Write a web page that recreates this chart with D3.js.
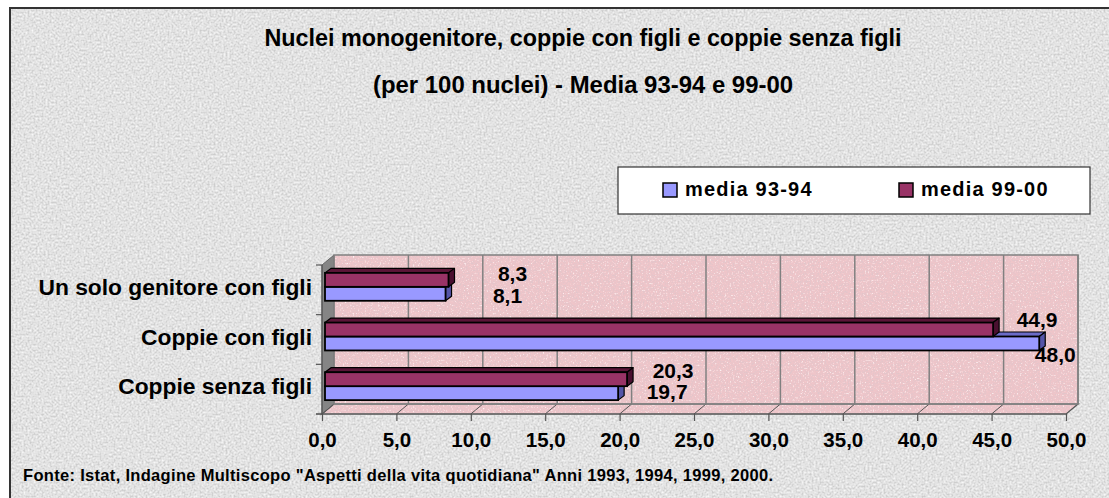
<!DOCTYPE html>
<html>
<head>
<meta charset="utf-8">
<script src="https://cdn.jsdelivr.net/npm/d3@7"></script>
<style>
  html, body { margin: 0; padding: 0; background: #fff; }
  text { font-family: "Liberation Sans", Arial, sans-serif; font-weight: bold; fill: #000; }
</style>
</head>
<body>
<div id="chart"></div>
<script>
// chart data
const categories = ["Un solo genitore con figli", "Coppie con figli", "Coppie senza figli"];
const seriesNames = ["media 93-94", "media 99-00"];
const media9394 = [8.1, 48.0, 19.7];
const media9900 = [8.3, 44.9, 20.3];
const xTicks = [0, 5, 10, 15, 20, 25, 30, 35, 40, 45, 50];
const titleLines = ["Nuclei monogenitore, coppie con figli e coppie senza figli",
                    "(per 100 nuclei) - Media 93-94 e 99-00"];
const sourceText = "Fonte: Istat, Indagine Multiscopo \"Aspetti della vita quotidiana\" Anni 1993, 1994, 1999, 2000.";

const width = 1109, height = 498;
const colors = { "media 93-94": "#9999ff", "media 99-00": "#993366" };
const topColors = { "media 93-94": "#6b6bc8", "media 99-00": "#5a1537" };
const sideColors = { "media 93-94": "#5555a8", "media 99-00": "#4a1030" };

// label placement tweaks (px, relative to bar end / bar centre)
const labelShift = {
  "media 99-00": [[64, 1], [44, -3], [46, -1]],
  "media 93-94": [[62, 9], [16, 19], [49, 6]]
};

const depth = [12, -10];     // wall depth
const barFront = [3, -3];    // bar front offset inside the depth
const barDepth = [6, -4.5];  // bar thickness

const svg = d3.select("#chart").append("svg")
    .attr("width", width).attr("height", height);

const defs = svg.append("defs");
// speckled texture: dark and light flecks laid over the fill
function grain(id, dark, light, freq) {
  const f = defs.append("filter").attr("id", id)
      .attr("x", 0).attr("y", 0).attr("width", "100%").attr("height", "100%");
  f.append("feTurbulence").attr("type", "fractalNoise")
      .attr("baseFrequency", freq).attr("numOctaves", 3).attr("seed", 5).attr("result", "n");
  const dk = d3.rgb(dark), lt = d3.rgb(light);
  f.append("feColorMatrix").attr("in", "n").attr("type", "matrix")
      .attr("values", `0 0 0 0 ${dk.r/255} 0 0 0 0 ${dk.g/255} 0 0 0 0 ${dk.b/255} 3.2 0 0 0 -1.45`)
      .attr("result", "d");
  f.append("feColorMatrix").attr("in", "n").attr("type", "matrix")
      .attr("values", `0 0 0 0 ${lt.r/255} 0 0 0 0 ${lt.g/255} 0 0 0 0 ${lt.b/255} -3.2 0 0 0 1.3`)
      .attr("result", "l");
  f.append("feComposite").attr("in", "d").attr("in2", "SourceGraphic").attr("operator", "in").attr("result", "dc");
  f.append("feComposite").attr("in", "l").attr("in2", "SourceGraphic").attr("operator", "in").attr("result", "lc");
  const m = f.append("feMerge");
  m.append("feMergeNode").attr("in", "SourceGraphic");
  m.append("feMergeNode").attr("in", "dc");
  m.append("feMergeNode").attr("in", "lc");
}
grain("granite", "#9a9a9a", "#ffffff", 0.5);
grain("pinkgrain", "#c09098", "#fbe4e6", 0.6);

// outer frame
svg.append("rect")
    .attr("x", 10).attr("y", 8).attr("width", 1200).attr("height", 600)
    .attr("fill", "#e6e6e6").attr("filter", "url(#granite)");
svg.append("rect")
    .attr("x", 10).attr("y", 8).attr("width", 1200).attr("height", 600)
    .attr("fill", "none").attr("stroke", "#333").attr("stroke-width", 2);

// title
svg.selectAll(".title").data(titleLines).enter().append("text")
    .attr("class", "title")
    .attr("x", 583).attr("y", (d, i) => 46 + i * 47)
    .attr("text-anchor", "middle")
    .attr("font-size", 23)
    .attr("textLength", (d, i) => [637, 420][i])
    .attr("lengthAdjust", "spacingAndGlyphs")
    .text(d => d);

// scales
const x = d3.scaleLinear().domain([0, 50]).range([322, 1066]);
const y = d3.scaleBand().domain(categories).range([265, 414]);
const ySub = d3.scaleBand().domain(["media 99-00", "media 93-94"])
    .range([0, y.bandwidth()]).paddingOuter(0.78);

const x0 = x.range()[0], x1 = x.range()[1];
const y0 = y.range()[0], y1 = y.range()[1];
const pts = a => a.map(p => p.join(",")).join(" ");

// back wall
svg.append("rect")
    .attr("x", x0 + depth[0]).attr("y", y0 + depth[1])
    .attr("width", x1 - x0).attr("height", y1 - y0)
    .attr("fill", "#efc5c9").attr("filter", "url(#pinkgrain)");
// floor
const floorPts = pts([[x0, y1], [x0 + depth[0], y1 + depth[1]], [x1 + depth[0], y1 + depth[1]], [x1, y1]]);
svg.append("polygon").attr("points", floorPts)
    .attr("fill", "#efc5c9").attr("filter", "url(#pinkgrain)");
svg.append("polygon").attr("points", floorPts)
    .attr("fill", "none").attr("stroke", "#808080").attr("stroke-width", 1.5);
// left wall
svg.append("polygon")
    .attr("points", pts([[x0, y0], [x0 + depth[0], y0 + depth[1]], [x0 + depth[0], y1 + depth[1]], [x0, y1]]))
    .attr("fill", "#858585").attr("stroke", "#666").attr("stroke-width", 1);

// grid lines on back wall and floor
svg.append("g").selectAll("line").data(xTicks.slice(1)).enter().append("line")
    .attr("x1", d => x(d) + depth[0]).attr("x2", d => x(d) + depth[0])
    .attr("y1", y0 + depth[1]).attr("y2", y1 + depth[1])
    .attr("stroke", "#808080").attr("stroke-width", 1.5);
svg.append("g").selectAll("line").data(xTicks).enter().append("line")
    .attr("x1", d => x(d)).attr("x2", d => x(d) + depth[0])
    .attr("y1", y1).attr("y2", y1 + depth[1])
    .attr("stroke", "#555").attr("stroke-width", 1);
svg.append("rect")
    .attr("x", x0 + depth[0]).attr("y", y0 + depth[1])
    .attr("width", x1 - x0).attr("height", y1 - y0)
    .attr("fill", "none").attr("stroke", "#808080").attr("stroke-width", 1.5);

// bars, drawn from the bottom up so upper fronts hide lower tops
const rows = [];
categories.forEach((c, i) => {
  rows.push({ cat: c, i, s: "media 93-94", v: media9394[i] });
  rows.push({ cat: c, i, s: "media 99-00", v: media9900[i] });
});
rows.sort((a, b) => (y(b.cat) + ySub(b.s)) - (y(a.cat) + ySub(a.s)));

const bars = svg.append("g").selectAll("g").data(rows).enter().append("g");
function geom(d) {
  const fx0 = x(0) + barFront[0], fx1 = x(d.v) + barFront[0];
  const fy0 = y(d.cat) + ySub(d.s) + barFront[1], fy1 = fy0 + ySub.bandwidth();
  return { fx0, fx1, fy0, fy1 };
}
bars.append("polygon")
    .attr("points", d => { const g = geom(d);
      return pts([[g.fx0, g.fy0], [g.fx0 + barDepth[0], g.fy0 + barDepth[1]],
                  [g.fx1 + barDepth[0], g.fy0 + barDepth[1]], [g.fx1, g.fy0]]); })
    .attr("fill", d => topColors[d.s]).attr("stroke", "#000").attr("stroke-width", 1.2)
    .attr("stroke-linejoin", "round");
bars.append("polygon")
    .attr("points", d => { const g = geom(d);
      return pts([[g.fx1, g.fy0], [g.fx1 + barDepth[0], g.fy0 + barDepth[1]],
                  [g.fx1 + barDepth[0], g.fy1 + barDepth[1]], [g.fx1, g.fy1]]); })
    .attr("fill", d => sideColors[d.s]).attr("stroke", "#000").attr("stroke-width", 1.2)
    .attr("stroke-linejoin", "round");
bars.append("rect")
    .attr("x", d => geom(d).fx0).attr("y", d => geom(d).fy0)
    .attr("width", d => geom(d).fx1 - geom(d).fx0)
    .attr("height", ySub.bandwidth())
    .attr("fill", d => colors[d.s]).attr("stroke", "#000").attr("stroke-width", 1.8);

// front axis lines
svg.append("line").attr("x1", x0).attr("x2", x0).attr("y1", y0).attr("y2", y1)
    .attr("stroke", "#555").attr("stroke-width", 1.2);
svg.append("line").attr("x1", x0 - 6).attr("x2", x1 + 0.5).attr("y1", y1).attr("y2", y1)
    .attr("stroke", "#555").attr("stroke-width", 1.2);

// x axis
const fmt = d => d3.format(".1f")(d).replace(".", ",");
const xAxis = svg.append("g").attr("transform", `translate(0,${y1})`)
    .call(d3.axisBottom(x).tickValues(xTicks).tickFormat(fmt).tickSize(7).tickSizeOuter(0).tickPadding(11));
xAxis.select(".domain").remove();
xAxis.selectAll("line").attr("stroke", "#555").attr("stroke-width", 1.2);
xAxis.selectAll("text").attr("font-size", 20.5).attr("font-family", null).attr("fill", "#000");

// category boundary ticks
svg.append("g").selectAll("line").data(d3.range(categories.length + 1)).enter().append("line")
    .attr("x1", x0 - 6).attr("x2", x0)
    .attr("y1", i => y0 + i * y.step()).attr("y2", i => y0 + i * y.step())
    .attr("stroke", "#555").attr("stroke-width", 1.2);

// y axis labels
const yAxis = svg.append("g").attr("transform", `translate(${x0},${barFront[1]})`)
    .call(d3.axisLeft(y).tickSize(0).tickPadding(10));
yAxis.select(".domain").remove();
yAxis.selectAll("text").attr("font-size", 22.8).attr("font-family", null)
    .attr("fill", "#000").attr("dy", "0.36em");

// value labels
svg.append("g").selectAll("text").data(rows).enter().append("text")
    .attr("x", d => x(d.v) + barFront[0] + labelShift[d.s][d.i][0])
    .attr("y", d => { const g = geom(d); return (g.fy0 + g.fy1) / 2 + labelShift[d.s][d.i][1]; })
    .attr("text-anchor", "middle")
    .attr("font-size", 21)
    .text(d => fmt(d.v));

// legend
const lg = svg.append("g");
lg.append("rect").attr("x", 618).attr("y", 167).attr("width", 472).attr("height", 47)
    .attr("fill", "#fff").attr("stroke", "#333").attr("stroke-width", 1.2);
const li = lg.selectAll("g").data(seriesNames).enter().append("g")
    .attr("transform", (d, i) => `translate(${663 + i * 236},183)`);
li.append("rect").attr("width", 14).attr("height", 14)
    .attr("fill", d => colors[d]).attr("stroke", "#000").attr("stroke-width", 1.5);
li.append("text").attr("x", 22).attr("y", 13)
    .attr("font-size", 20).attr("letter-spacing", 1.2)
    .text(d => d);

// source
svg.append("text")
    .attr("x", 23).attr("y", 481)
    .attr("font-size", 16.5)
    .attr("textLength", 750).attr("lengthAdjust", "spacing")
    .text(sourceText);
</script>
</body>
</html>
